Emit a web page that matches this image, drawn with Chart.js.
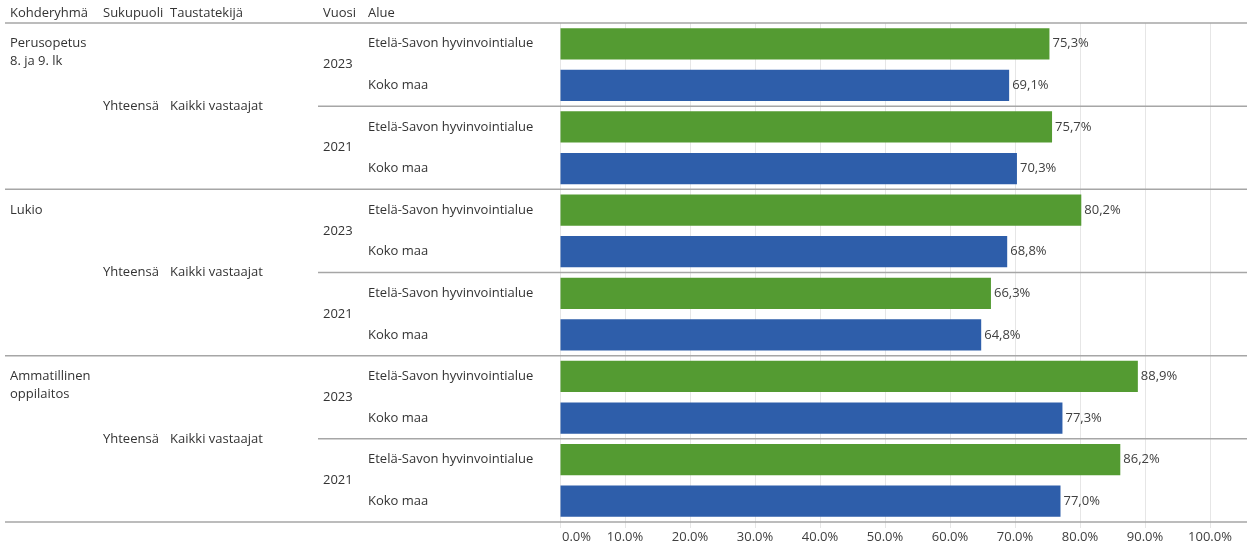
<!DOCTYPE html>
<html>
<head>
<meta charset="utf-8">
<script src="https://cdn.jsdelivr.net/npm/chart.js@4.4.1/dist/chart.umd.min.js"></script>
<style>
  html, body { margin: 0; padding: 0; background: #fff; }
  #wrap { width: 1247px; height: 550px; }
</style>
</head>
<body>
<div id="wrap"><canvas id="chart"></canvas></div>
<script>
// table columns
const headers = ['Kohderyhmä', 'Sukupuoli', 'Taustatekijä', 'Vuosi', 'Alue']
const groups = [['Perusopetus', '8. ja 9. lk'], ['Lukio'], ['Ammatillinen', 'oppilaitos']]
const gender = 'Yhteensä'
const background = 'Kaikki vastaajat'
const years = ['2023', '2021']
const areas = ['Etelä-Savon hyvinvointialue', 'Koko maa']

// values per group, per year: [Etelä-Savo, Koko maa]
const eteläSavo = [75.3, 75.7, 80.2, 66.3, 88.9, 86.2]
const kokoMaa = [69.1, 70.3, 68.8, 64.8, 77.3, 77.0]

const xTicks = [0, 10, 20, 30, 40, 50, 60, 70, 80, 90, 100]

const green = '#549B32'
const blue = '#2E5EAA'
const font = '"Open Sans", "Noto Sans", sans-serif'

const labels = []
const values = []
const colors = []
eteläSavo.forEach((v, i) => {
    labels.push(i + '-0')
    values.push(v)
    colors.push(green)
    labels.push(i + '-1')
    values.push(kokoMaa[i])
    colors.push(blue)
})

const tablePlugin = {
    id: 'table',
    afterDraw(chart) {
        const ctx = chart.ctx
        const y = chart.scales.y
        const x = chart.scales.x
        const area = chart.chartArea
        const cols = [10, 103, 170, 323, 368]
        const slot = y.getPixelForValue(1) - y.getPixelForValue(0)
        ctx.save()
        ctx.font = '13px ' + font
        ctx.fillStyle = '#333'
        ctx.textBaseline = 'middle'
        ctx.textAlign = 'left'
        headers.forEach((h, i) => ctx.fillText(h, cols[i], 13))

        ctx.strokeStyle = '#a6a6a6'
        ctx.lineWidth = 1.5
        const line = (x0, yy) => {
            ctx.beginPath()
            ctx.moveTo(x0, yy)
            ctx.lineTo(chart.width, yy)
            ctx.stroke()
        }
        line(5, area.top)

        groups.forEach((g, gi) => {
            const first = gi * 4
            const top = y.getPixelForValue(first) - slot / 2
            const bottom = y.getPixelForValue(first + 3) + slot / 2
            g.forEach((t, k) => ctx.fillText(t, cols[0], y.getPixelForValue(first) + k * 18))
            ctx.fillText(gender, cols[1], (top + bottom) / 2)
            ctx.fillText(background, cols[2], (top + bottom) / 2)
            years.forEach((yr, yi) => {
                const a = first + yi * 2
                const mid = (y.getPixelForValue(a) + y.getPixelForValue(a + 1)) / 2
                ctx.fillText(yr, cols[3], mid)
                areas.forEach((ar, ai) => ctx.fillText(ar, cols[4], y.getPixelForValue(a + ai)))
            })
            line(318, y.getPixelForValue(first + 1) + slot / 2)
            line(5, bottom)
        })

        // data labels
        const meta = chart.getDatasetMeta(0)
        ctx.fillStyle = '#404040'
        meta.data.forEach((bar, i) => {
            ctx.fillText(values[i].toFixed(1).replace('.', ',') + '%', bar.x + 3, bar.y)
        })

        // x tick labels, first one kept inside the plot like the original
        xTicks.forEach((v) => {
            const txt = v.toFixed(1) + '%'
            const w = ctx.measureText(txt).width
            let px = x.getPixelForValue(v) - w / 2
            if (px < area.left + 2) px = area.left + 2
            ctx.fillText(txt, px, area.bottom + 15)
        })
        ctx.restore()
    }
}

new Chart(document.getElementById('chart'), {
    type: 'bar',
    data: {
        labels: labels,
        datasets: [{
            data: values,
            backgroundColor: colors,
            categoryPercentage: 1,
            barPercentage: 0.75
        }]
    },
    options: {
        indexAxis: 'y',
        responsive: true,
        maintainAspectRatio: false,
        animation: false,
        layout: { padding: { top: 23, right: 37, bottom: 0, left: 0 } },
        plugins: {
            legend: { display: false },
            tooltip: { enabled: false }
        },
        scales: {
            x: {
                min: 0,
                max: 100,
                afterBuildTicks(scale) {
                    scale.ticks = xTicks.map((v) => ({ value: v }))
                },
                afterFit(scale) {
                    scale.height = 28
                },
                border: { display: false },
                grid: {
                    color: '#e6e6e6',
                    tickLength: 6,
                    drawTicks: true
                },
                ticks: { display: false }
            },
            y: {
                afterFit(scale) {
                    scale.width = 560
                },
                border: { display: false },
                grid: { display: false },
                ticks: { display: false }
            }
        }
    },
    plugins: [tablePlugin]
})
</script>
</body>
</html>
